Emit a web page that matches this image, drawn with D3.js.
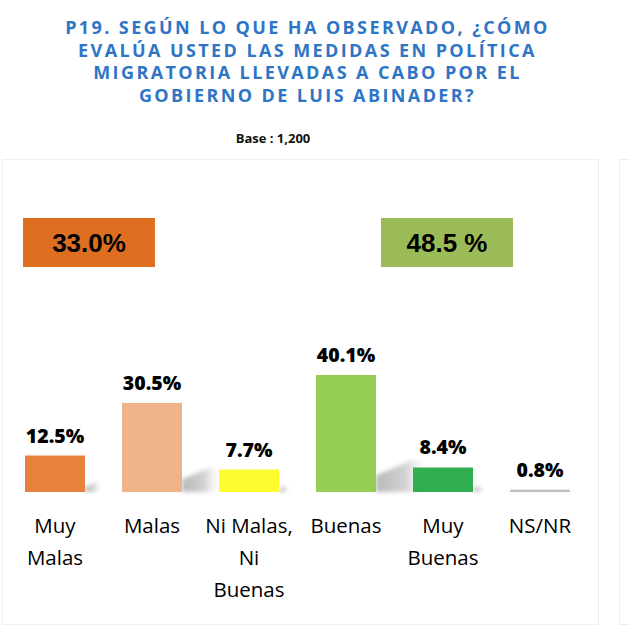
<!DOCTYPE html>
<html>
<head>
<meta charset="utf-8">
<script src="https://cdn.jsdelivr.net/npm/d3@7"></script>
<style>
  html, body { margin: 0; padding: 0; background: #ffffff; }
  svg { display: block; }
</style>
</head>
<body>
<svg id="chart"></svg>
<script>
(function() {
    'use strict';

    // Question title lines and base
    const titleLines = [
        'P19. SEGÚN LO QUE HA OBSERVADO, ¿CÓMO',
        'EVALÚA USTED LAS MEDIDAS EN POLÍTICA',
        'MIGRATORIA LLEVADAS A CABO POR EL',
        'GOBIERNO DE LUIS ABINADER?'
    ];
    const baseText = 'Base : 1,200';

    // Categories and values (%)
    const categories = ['Muy Malas', 'Malas', 'Ni Malas, Ni Buenas', 'Buenas', 'Muy Buenas', 'NS/NR'];
    const values = [12.5, 30.5, 7.7, 40.1, 8.4, 0.8];
    const barColors = ['#e7823d', '#efb38a', '#fcfc30', '#96ce55', '#30ae50', '#bfbfbf'];

    // Grouped totals (negative / positive)
    const summaryLabels = ['33.0%', '48.5 %'];
    const summaryColors = ['#de6e20', '#9bbb59'];

    const width = 629, height = 633;
    const svg = d3.select('#chart').attr('width', width).attr('height', height);

    const defs = svg.append('defs');
    defs.append('filter')
        .attr('id', 'shadow-blur')
        .attr('x', '-20%').attr('y', '-20%').attr('width', '140%').attr('height', '140%')
        .append('feGaussianBlur')
        .attr('stdDeviation', 2.2);

    const grad = defs.append('linearGradient')
        .attr('id', 'shadow-grad')
        .attr('x1', '0%').attr('x2', '100%').attr('y1', '0%').attr('y2', '0%');
    grad.append('stop').attr('offset', '0%').attr('stop-color', '#b8b8b8');
    grad.append('stop').attr('offset', '55%').attr('stop-color', '#d2d2d2');
    grad.append('stop').attr('offset', '100%').attr('stop-color', '#ffffff').attr('stop-opacity', 0);

    // Panels
    svg.append('rect')
        .attr('x', 2.5).attr('y', 159.5)
        .attr('width', 596).attr('height', 465)
        .attr('fill', '#ffffff')
        .attr('stroke', '#efefef');
    svg.append('rect')
        .attr('x', 619.5).attr('y', 159.5)
        .attr('width', 40).attr('height', 465)
        .attr('fill', '#ffffff')
        .attr('stroke', '#efefef');

    // Title
    const title = svg.append('text')
        .attr('text-anchor', 'middle')
        .style('font-family', '"Open Sans", sans-serif')
        .style('font-size', '18px')
        .style('font-weight', '700')
        .style('letter-spacing', '2.4px')
        .style('fill', '#2f75c5');
    titleLines.forEach((line, i) => {
        title.append('tspan')
            .attr('x', 307.5)
            .attr('y', 34 + i * 22.7)
            .text(line);
    });

    svg.append('text')
        .attr('x', 273)
        .attr('y', 143)
        .attr('text-anchor', 'middle')
        .style('font-family', '"Open Sans", sans-serif')
        .style('font-size', '13px')
        .style('font-weight', '700')
        .style('fill', '#111111')
        .text(baseText);

    // Scales
    const x = d3.scaleBand()
        .domain(categories)
        .range([6.5, 588.5])
        .paddingInner(37 / 97)
        .paddingOuter(37 / 97 / 2);

    const y = d3.scaleLinear()
        .domain([0, d3.max(values)])
        .range([492, 375]);

    const data = categories.map((c, i) => ({ cat: c, value: values[i], color: barColors[i] }));

    // Summary boxes
    const summaryX = [23, 381];
    summaryLabels.forEach((label, i) => {
        svg.append('rect')
            .attr('x', summaryX[i]).attr('y', 218)
            .attr('width', 132).attr('height', 49)
            .attr('fill', summaryColors[i]);
        svg.append('text')
            .attr('x', summaryX[i] + 66)
            .attr('y', 252)
            .attr('text-anchor', 'middle')
            .style('font-family', '"Liberation Sans", Arial, sans-serif')
            .style('font-size', '26px')
            .style('font-weight', '700')
            .style('fill', '#000000')
            .text(label);
    });

    const g = svg.append('g');

    // Soft cast shadows to the right of each bar
    g.selectAll('.shadow')
        .data(data)
        .enter()
        .append('path')
        .attr('class', 'shadow')
        .attr('fill', 'url(#shadow-grad)')
        .attr('filter', 'url(#shadow-blur)')
        .attr('d', d => {
            const r = x(d.cat) + x.bandwidth();
            const b = y(0);
            const h = b - y(d.value);
            return `M${r},${b} L${r},${b - h * 0.14} L${r + h * 0.3},${b - h * 0.27} L${r + h * 0.4},${b - h * 0.27} L${r + h * 0.46},${b} Z`;
        });

    // Bars
    g.selectAll('.bar')
        .data(data)
        .enter()
        .append('rect')
        .attr('class', 'bar')
        .attr('x', d => x(d.cat))
        .attr('y', d => y(d.value))
        .attr('width', x.bandwidth())
        .attr('height', d => y(0) - y(d.value))
        .attr('fill', d => d.color);

    // Value labels
    g.selectAll('.value')
        .data(data)
        .enter()
        .append('text')
        .attr('class', 'value')
        .attr('x', d => x(d.cat) + x.bandwidth() / 2)
        .attr('y', d => y(d.value) - 13)
        .attr('text-anchor', 'middle')
        .style('font-family', '"Open Sans", sans-serif')
        .style('font-size', '19.5px')
        .style('font-weight', '800')
        .style('fill', '#000000')
        .text(d => d3.format('.1f')(d.value) + '%');

    // Category labels, wrapped
    const labels = g.selectAll('.cat')
        .data(data)
        .enter()
        .append('text')
        .attr('class', 'cat')
        .attr('text-anchor', 'middle')
        .style('font-family', '"Open Sans", sans-serif')
        .style('font-size', '20.5px')
        .style('fill', '#000000');

    labels.each(function(d) {
        const text = d3.select(this);
        const cx = x(d.cat) + x.bandwidth() / 2;
        const words = d.cat.split(' ');
        const lines = [];
        let line = [];
        const probe = text.append('tspan');
        words.forEach(w => {
            const test = line.concat(w).join(' ');
            probe.text(test);
            if (line.length && probe.node().getComputedTextLength() > 92) {
                lines.push(line.join(' '));
                line = [w];
            } else {
                line.push(w);
            }
        });
        lines.push(line.join(' '));
        probe.remove();
        lines.forEach((l, i) => {
            text.append('tspan')
                .attr('x', cx)
                .attr('y', 533 + i * 32)
                .text(l);
        });
    });
})();
</script>
</body>
</html>
